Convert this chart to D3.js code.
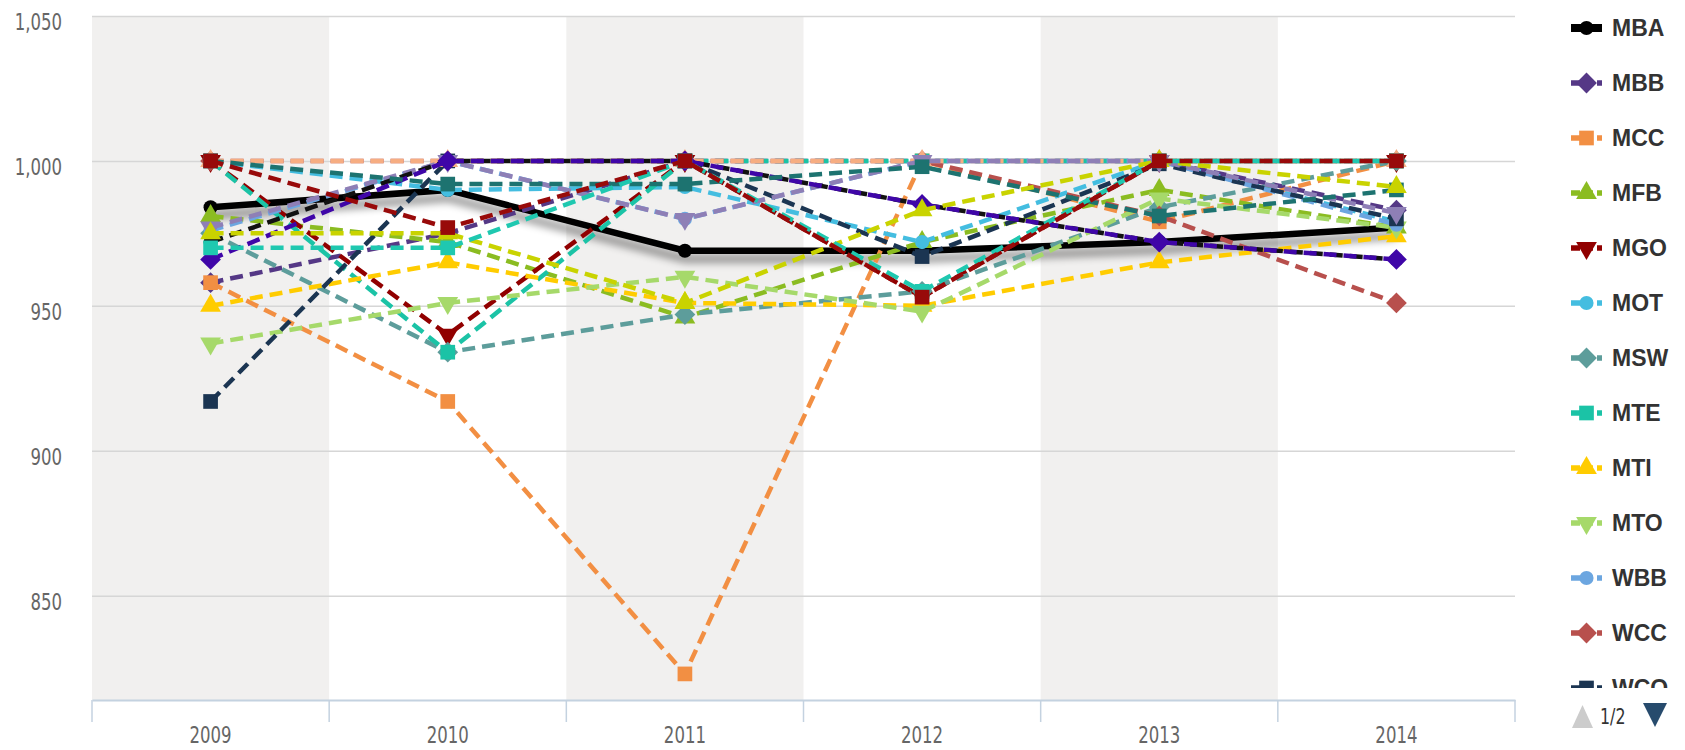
<!DOCTYPE html>
<html>
<head>
<meta charset="utf-8">
<script src="https://cdn.jsdelivr.net/npm/d3@7/dist/d3.min.js"></script>
<style>
body { margin: 0; background: #fff; }
svg text { font-family: "Liberation Sans Narrow", "DejaVu Sans Condensed", "Roboto", sans-serif; }
.legend text { font-family: "Liberation Sans", Arial, sans-serif; font-weight: bold; }
</style>
</head>
<body>
<script>
// categories and ticks
var years = ["2009", "2010", "2011", "2012", "2013", "2014"];
var yTicks = [850, 900, 950, 1000, 1050];

// one array per team
var MBA = [984, 990, 969, 969, 972, 977];
var MBB = [958, 975, 1000, 1000, 1000, 983];
var MCC = [958, 917, 823, 1000, 979, 1000];
var MFB = [981, 972, 946, 972, 990, 977];
var MGO = [1000, 940, 1000, 953, 1000, 1000];
var MOT = [1000, 990, 991, 972, 1000, 979];
var MSW = [975, 934, 947, 955, 984, 1000];
var MTE = [1000, 934, 1000, 1000, 1000, 1000];
var MTI = [950, 965, 951, 950, 965, 974];
var MTO = [937, 951, 960, 948, 987, 977];
var WBB = [976, 1000, 980, 1000, 1000, 978];
var WCC = [1000, 1000, 1000, 1000, 981, 951];
var WCO = [917, 1000, 1000, 967, 999, 980];
var WGO = [1000, 1000, 1000, 1000, 1000, 1000];
var WSB = [977, 1000, 980, 1000, 1000, 982];
var WSO = [972, 1000, 1000, 985, 972, 966];
var WSW = [966, 1000, 1000, 985, 972, 966];
var WTE = [1000, 992, 992, 998, 981, 990];
var WTI = [975, 975, 951, 983, 1000, 991];
var WVB = [970, 970, 1000, 955, 1000, 1000];
var WTO = [1000, 977, 1000, 953, 1000, 1000];

var names = ["MBA", "MBB", "MCC", "MFB", "MGO", "MOT", "MSW", "MTE", "MTI", "MTO", "WBB", "WCC", "WCO",
             "WGO", "WSB", "WSO", "WSW", "WTE", "WTI", "WVB", "WTO"];
var values = [MBA, MBB, MCC, MFB, MGO, MOT, MSW, MTE, MTI, MTO, WBB, WCC, WCO,
              WGO, WSB, WSO, WSW, WTE, WTI, WVB, WTO];

var colors = ["#000000", "#553886", "#f28f43", "#8bbc21", "#910000", "#44bde0", "#5d9d9b", "#1bc3a6",
              "#ffcc00", "#a6d96a", "#6ca6e0", "#b8504d", "#1b3552",
              "#f6ad82", "#8e7fb6", "#111111", "#3f06a8", "#1d7370", "#c9d300", "#1fc8b0", "#980a0a"];
var markers = ["circle", "diamond", "square", "triangle", "down", "circle", "diamond", "square", "triangle", "down",
               "circle", "diamond", "square", "triangle", "down", "circle", "diamond", "square", "triangle", "square", "square"];

var series = names.map(function(n, i) {
    return {name: n, values: values[i], color: colors[i], marker: markers[i], index: i};
});

var W = 1685, H = 750;
var plot = {left: 92, right: 1515, top: 16, bottom: 700};
var squeeze = 0.8; // narrow the axis font

var svg = d3.select("body").append("svg")
    .attr("width", W)
    .attr("height", H);

var defs = svg.append("defs");
var f = defs.append("filter").attr("id", "shadow")
    .attr("x", "-5%").attr("y", "-60%").attr("width", "110%").attr("height", "260%");
f.append("feGaussianBlur").attr("in", "SourceAlpha").attr("stdDeviation", 4.5);
f.append("feOffset").attr("dy", 8).attr("result", "off");
f.append("feComponentTransfer").append("feFuncA").attr("type", "linear").attr("slope", 0.5);
var fm = f.append("feMerge");
fm.append("feMergeNode");
fm.append("feMergeNode").attr("in", "SourceGraphic");

defs.append("clipPath").attr("id", "legclip")
    .append("rect").attr("x", 1540).attr("y", 0).attr("width", 145).attr("height", 688);

var x = d3.scaleBand().domain(years).range([plot.left, plot.right]).paddingInner(0).paddingOuter(0);
var y = d3.scaleLinear().domain([814, 1050]).range([plot.bottom, plot.top]);
function cx(d) { return x(d) + x.bandwidth() / 2; }

// alternating column bands
svg.append("g").selectAll("rect")
    .data(years.filter(function(d, i) { return i % 2 === 0; }))
    .enter().append("rect")
    .attr("x", function(d) { return x(d); })
    .attr("y", plot.top)
    .attr("width", x.bandwidth())
    .attr("height", plot.bottom - plot.top)
    .attr("fill", "#f1f0ef");

// y axis (gridlines + labels)
var yAxis = d3.axisLeft(y).tickValues(yTicks)
    .tickSize(-(plot.right - plot.left))
    .tickPadding(30)
    .tickFormat(d3.format(","));
var gy = svg.append("g").attr("transform", "translate(" + plot.left + ",0)").call(yAxis);
gy.select(".domain").remove();
gy.selectAll(".tick line").attr("stroke", "#d6d6d6").attr("stroke-width", 1.5);
gy.selectAll(".tick text")
    .attr("fill", "#666666")
    .style("font-size", "23px")
    .attr("x", -30 / squeeze)
    .attr("dy", "0.58em")
    .attr("transform", "scale(" + squeeze + ",1)");

// x axis
var xAxis = d3.axisBottom(x).tickSize(0).tickPadding(27);
var gx = svg.append("g").attr("transform", "translate(0," + plot.bottom + ")").call(xAxis);
gx.select(".domain").attr("stroke", "#c4d2e0").attr("stroke-width", 2);
gx.selectAll(".tick text")
    .attr("fill", "#666666")
    .style("font-size", "23px")
    .attr("transform", "scale(" + squeeze + ",1)");
gx.selectAll(".boundary")
    .data(years.concat(["end"]))
    .enter().append("line")
    .attr("class", "boundary")
    .attr("x1", function(d, i) { return i < years.length ? x(d) : plot.right; })
    .attr("x2", function(d, i) { return i < years.length ? x(d) : plot.right; })
    .attr("y1", 0).attr("y2", 22)
    .attr("stroke", "#c4d2e0").attr("stroke-width", 1.5);

// symbols
function symPath(type, size) {
    if (type === "circle") return d3.symbol(d3.symbolCircle, size * size * 0.8)();
    if (type === "square" || type === "diamond") return d3.symbol(d3.symbolSquare, size * size * 1.1)();
    return d3.symbol(d3.symbolTriangle, size * size * 0.95)();
}
function symRot(type) {
    if (type === "diamond") return 45;
    if (type === "down") return 180;
    return 0;
}

var line = d3.line()
    .x(function(d, i) { return cx(years[i]); })
    .y(function(d) { return y(d); });

var gs = svg.append("g").selectAll("g.series")
    .data(series)
    .enter().append("g").attr("class", "series");

gs.append("path")
    .attr("d", function(d) { return line(d.values); })
    .attr("fill", "none")
    .attr("stroke", function(d) { return d.color; })
    .attr("stroke-width", function(d) { return d.index === 0 ? 6.5 : 4.5; })
    .attr("stroke-dasharray", function(d) { return d.index === 0 ? null : "13,7"; })
    .attr("filter", function(d) { return d.index === 0 ? "url(#shadow)" : null; });

gs.selectAll("path.pt")
    .data(function(d) { return d.values.map(function(v, i) { return {v: v, i: i, s: d}; }); })
    .enter().append("path")
    .attr("class", "pt")
    .attr("d", function(d) { return symPath(d.s.marker, 14); })
    .attr("transform", function(d) {
        return "translate(" + cx(years[d.i]) + "," + y(d.v) + ") rotate(" + symRot(d.s.marker) + ")";
    })
    .attr("fill", function(d) { return d.s.color; });

// legend, first page
var legend = svg.append("g").attr("class", "legend").attr("clip-path", "url(#legclip)");
var items = legend.selectAll("g")
    .data(series.slice(0, 13))
    .enter().append("g")
    .attr("transform", function(d, i) { return "translate(1571," + (28 + i * 55) + ")"; });
items.append("line")
    .attr("x1", 0).attr("x2", 31).attr("y1", 0).attr("y2", 0)
    .attr("stroke", function(d) { return d.color; })
    .attr("stroke-width", function(d) { return d.index === 0 ? 8 : 5.5; })
    .attr("stroke-dasharray", function(d) { return d.index === 0 ? null : "9,4"; });
items.append("path")
    .attr("d", function(d) { return symPath(d.marker, 14); })
    .attr("transform", function(d) { return "translate(15.5,0) rotate(" + symRot(d.marker) + ")"; })
    .attr("fill", function(d) { return d.color; });
items.append("text")
    .attr("x", 41).attr("y", 0).attr("dy", "0.36em")
    .attr("fill", "#333333")
    .style("font-size", "23px")
    .text(function(d) { return d.name; });

// legend pager
var nav = svg.append("g").attr("transform", "translate(1572,716)");
nav.append("path").attr("d", "M0,12 L10.5,-11 L21,12 Z").attr("fill", "#cccccc");
nav.append("text").attr("x", 28 / squeeze).attr("y", 0).attr("dy", "0.36em")
    .attr("transform", "scale(" + squeeze + ",1)")
    .attr("fill", "#333333").style("font-size", "22px").text("1/2");
nav.append("path").attr("d", "M71,-13 L95,-13 L83,11 Z").attr("fill", "#274b6d");
</script>
</body>
</html>
